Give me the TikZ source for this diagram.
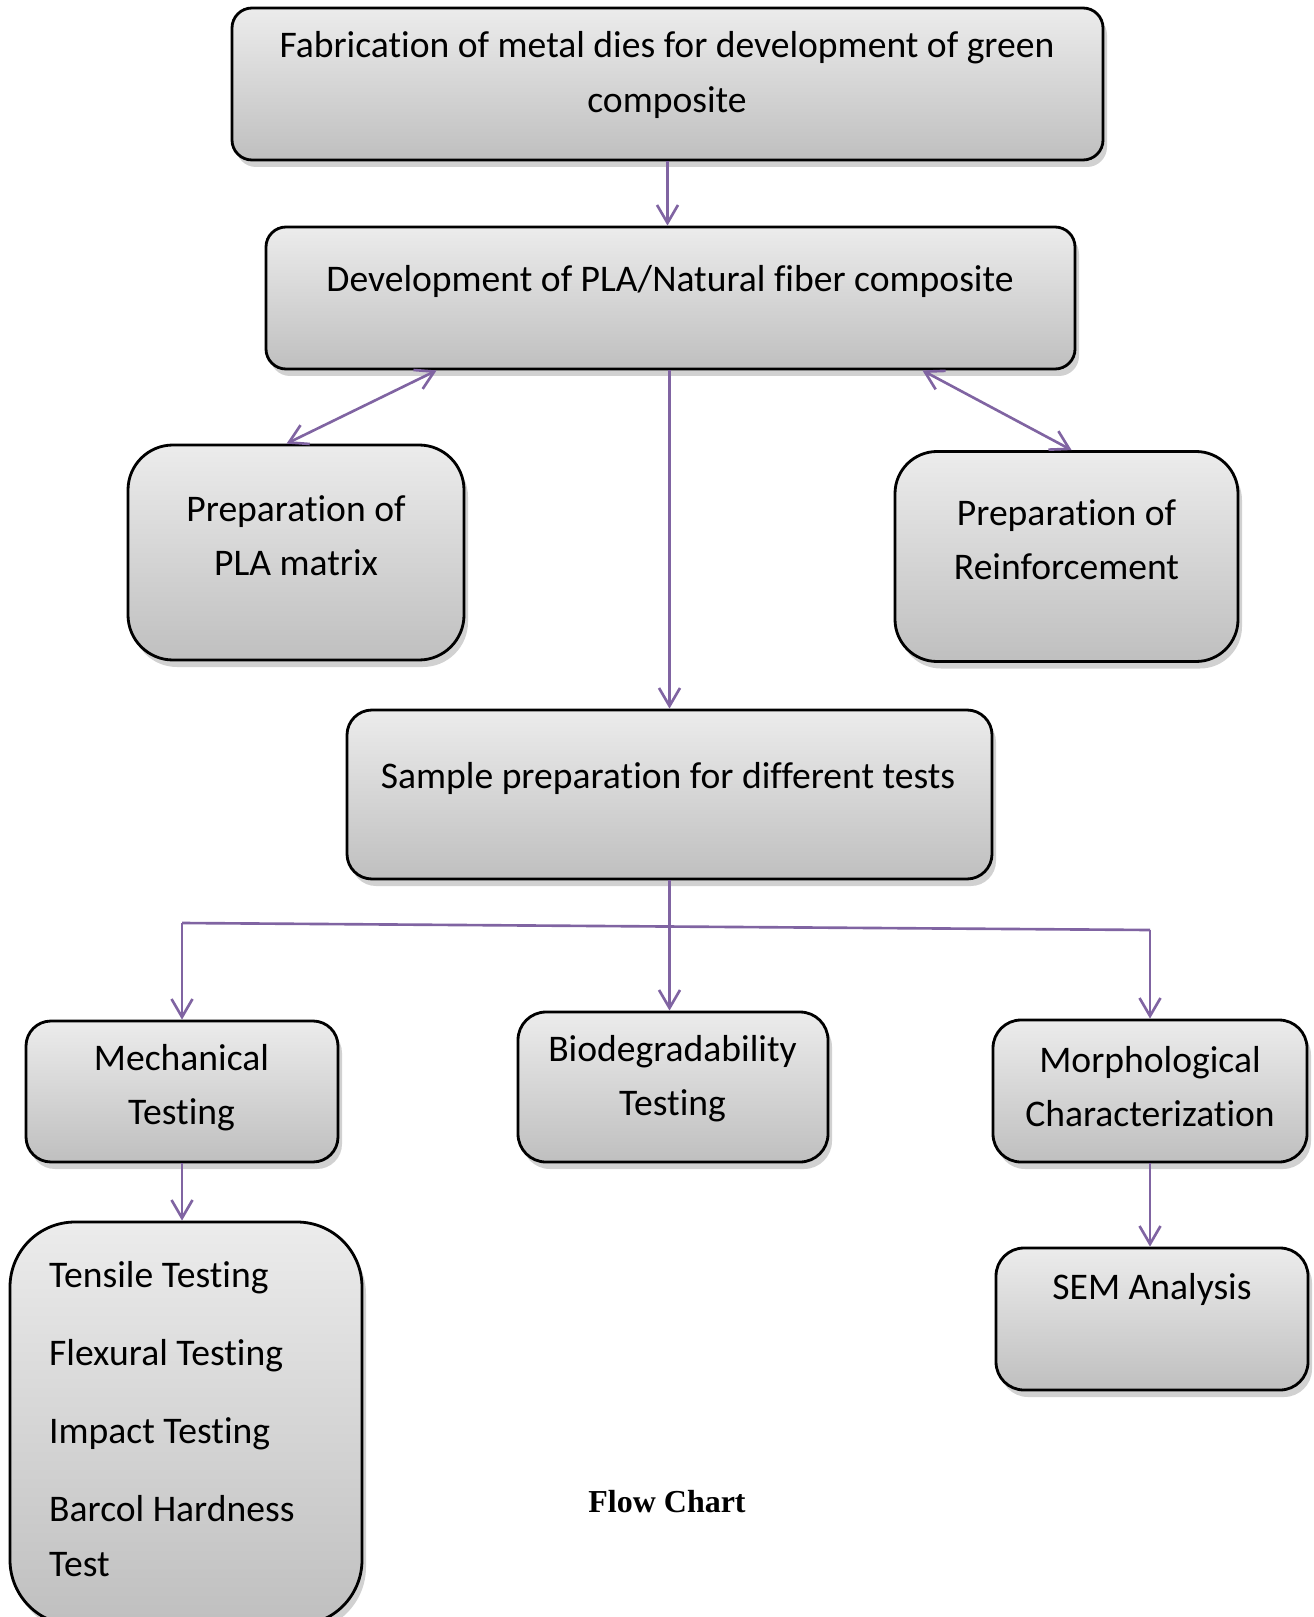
\documentclass[tikz,border=0pt]{standalone}
\usepackage{fontspec}
\setmainfont{Carlito}[Ligatures=NoCommon]
\newfontfamily\chartfont{Liberation Serif}
\usetikzlibrary{arrows.meta, shadows}

\definecolor{flowpurple}{RGB}{128,100,162}

\begin{document}
\begin{tikzpicture}[
    box/.style={draw=black, line width=0.8pt, top color=gray!15, bottom color=gray!50,
        drop shadow={shadow xshift=0.4mm, shadow yshift=-0.7mm, fill=black!45, opacity=0.4},
        inner sep=0pt},
    txt/.style={align=center, font=\fontsize{10.7}{15.4}\selectfont},
    link/.style={flowpurple, line width=0.75pt},
    >={Straight Barb[length=1.8mm, width=2.1mm]}
]
    \useasboundingbox (0,0) rectangle (13.14,-16.17);

    % Boxes
    \node[box, rounded corners=2mm, minimum width=8.71cm, minimum height=1.52cm] (top) at (6.675,-0.84) {};
    \node[box, rounded corners=2mm, minimum width=8.09cm, minimum height=1.42cm] (dev) at (6.705,-2.98) {};
    \node[box, rounded corners=4.5mm, minimum width=3.36cm, minimum height=2.15cm] (pla) at (2.96,-5.525) {};
    \node[box, rounded corners=4.2mm, minimum width=3.43cm, minimum height=2.10cm] (reinf) at (10.665,-5.565) {};
    \node[box, rounded corners=2.5mm, minimum width=6.45cm, minimum height=1.69cm] (sample) at (6.695,-7.945) {};
    \node[box, rounded corners=2.5mm, minimum width=3.12cm, minimum height=1.41cm] (mech) at (1.82,-10.915) {};
    \node[box, rounded corners=2.8mm, minimum width=3.10cm, minimum height=1.50cm] (bio) at (6.73,-10.87) {};
    \node[box, rounded corners=2.8mm, minimum width=3.14cm, minimum height=1.42cm] (morph) at (11.50,-10.91) {};
    \node[box, rounded corners=6.5mm, minimum width=3.52cm, minimum height=4.03cm] (tests) at (1.86,-14.235) {};
    \node[box, rounded corners=2.8mm, minimum width=3.12cm, minimum height=1.42cm] (sem) at (11.52,-13.19) {};

    % Texts
    \node[txt] (toptext) at (6.67,-0.75) {Fabrication of metal dies for development of green\\composite};
    \node[txt] (devtext) at (6.70,-2.816) {Development of PLA/Natural fiber composite};
    \node[txt] (platext) at (2.96,-5.36) {Preparation of\\PLA matrix};
    \node[txt] (reinftext) at (10.665,-5.40) {Preparation of\\Reinforcement};
    \node[txt] (sampletext) at (6.68,-7.787) {Sample preparation for different tests};
    \node[txt] (mechtext) at (1.815,-10.88) {Mechanical\\Testing};
    \node[txt] (biotext) at (6.725,-10.79) {Biodegradability\\Testing};
    \node[txt] (morphtext) at (11.50,-10.87) {Morphological\\Characterization};
    \node[txt] (semtext) at (11.52,-12.89) {SEM Analysis};
    \node[txt, align=left, anchor=west, inner sep=0pt] (teststext) at (0.485,-14.19)
        {Tensile Testing\\[6.8pt] Flexural Testing\\[6.8pt] Impact Testing\\[6.8pt] Barcol Hardness\\Test};

    % Caption
    \node[font=\chartfont\bfseries\fontsize{9.1}{11}\selectfont] (chart) at (6.67,-15.02) {Flow Chart};

    % Connectors
    \draw[link, ->] (top.south) -- (top.south |- dev.north);
    \draw[link, <->] ([xshift=1.72cm]dev.south west) -- ([xshift=1.6cm]pla.north west);
    \draw[link, <->] ([xshift=-1.54cm]dev.south east) -- ([xshift=1.78cm]reinf.north west);
    \draw[link, ->] (sample.north |- dev.south) -- (sample.north);

    % Branch to the tests
    \coordinate (branchL) at (1.82,-9.23);
    \coordinate (branchR) at (11.50,-9.30);
    \draw[link, ->] (sample.south) -- (sample.south |- bio.north);
    \draw[link] (branchL) -- (branchR);
    \draw[link, ->] (branchL) -- (mech.north);
    \draw[link, ->] (branchR) -- (morph.north);
    \draw[link, ->] (mech.south) -- (mech.south |- tests.north);
    \draw[link, ->] (morph.south) -- (morph.south |- sem.north);
\end{tikzpicture}
\end{document}
